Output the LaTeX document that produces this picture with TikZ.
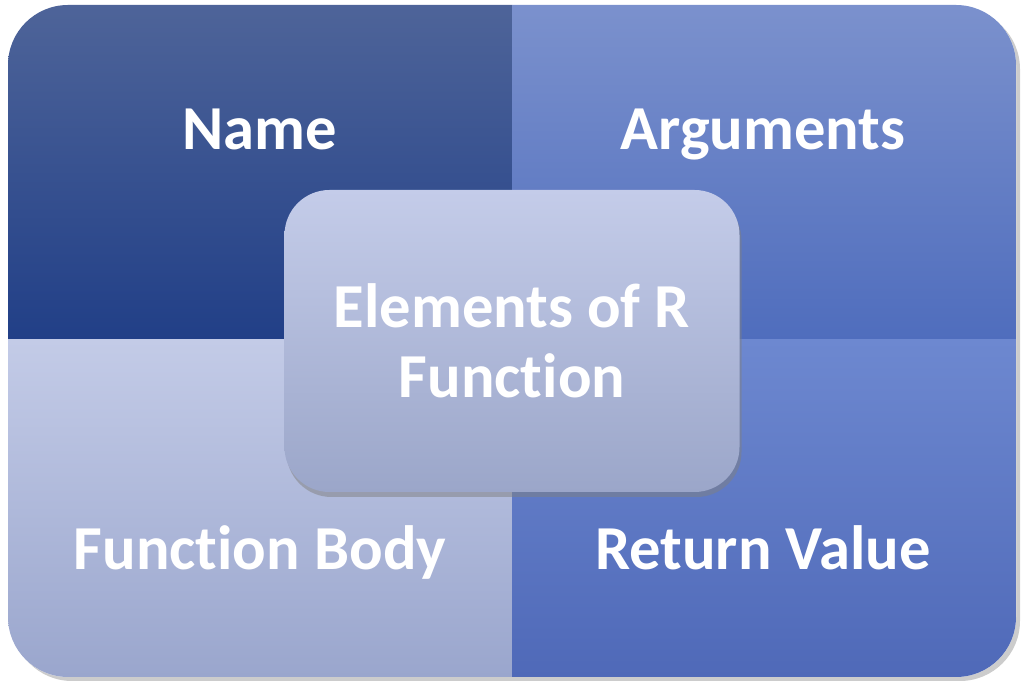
\documentclass[tikz,border=0pt]{standalone}
\usepackage{fontspec}
\setmainfont{Carlito}[Ligatures=NoCommon]
\usetikzlibrary{shadows}

\definecolor{nameTop}{HTML}{4E6499}
\definecolor{nameBot}{HTML}{213F87}
\definecolor{argTop}{HTML}{7B91CD}
\definecolor{argBot}{HTML}{4F6DBD}
\definecolor{bodyTop}{HTML}{C3CBE7}
\definecolor{bodyBot}{HTML}{9AA6CD}
\definecolor{retTop}{HTML}{6D88D0}
\definecolor{retBot}{HTML}{4F69B8}
\definecolor{midTop}{HTML}{C4CCE9}
\definecolor{midBot}{HTML}{9BA6C9}

\begin{document}
\begin{tikzpicture}[every node/.style={text=white, font=\fontsize{17.8}{19.8}\selectfont\bfseries},
    quad/.style={draw=none}, label/.style={anchor=base}]
        \useasboundingbox (0,0) rectangle (10.24,6.87);
        % outer panel with shadow
        \fill[rounded corners=0.6cm, white, drop shadow={shadow xshift=0.04cm, shadow yshift=-0.04cm, opacity=0.4}]
        (0.08,0.10) rectangle (10.16,6.82);
        \begin{scope}
            \clip[rounded corners=0.6cm] (0.08,0.10) rectangle (10.16,6.82);
            \shade[quad, top color=nameTop, bottom color=nameBot] (0.08,3.47) rectangle (5.12,6.82);
            \shade[quad, top color=argTop, bottom color=argBot] (5.12,3.47) rectangle (10.16,6.82);
            \shade[quad, top color=bodyTop, bottom color=bodyBot] (0.08,0.10) rectangle (5.12,3.47);
            \shade[quad, top color=retTop, bottom color=retBot] (5.12,0.10) rectangle (10.16,3.47);
        \end{scope}
        \node[label] (name) at (2.60,5.37) {Name};
        \node[label] (args) at (7.63,5.37) {Arguments};
        \node[label] (body) at (2.60,1.17) {Function Body};
        \node[label] (retval) at (7.63,1.17) {Return Value};
        % centre box
        \node[rounded corners=0.45cm, minimum width=4.55cm, minimum height=3.02cm,
        top color=midTop, bottom color=midBot, align=center,
        drop shadow={shadow xshift=0.02cm, shadow yshift=-0.05cm, opacity=0.5}]
        (elements) at (5.12,3.46) {Elements of R\\Function};
    \end{tikzpicture}
\end{document}
